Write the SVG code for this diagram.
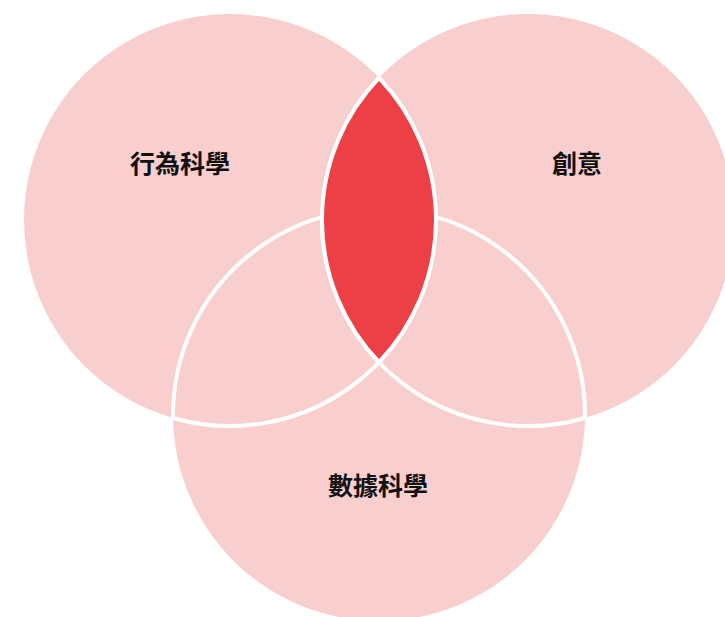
<svg xmlns="http://www.w3.org/2000/svg" width="725" height="617" viewBox="0 0 725 617">
<style>
.c{fill:#F9CECE;stroke:none}
.ov{fill:#F9CECE;stroke:#FFFFFF;stroke-width:4;stroke-linejoin:round}
.core{fill:#EC4046;stroke:#FFFFFF;stroke-width:4;stroke-linejoin:round}
.t{font-family:"Noto Sans CJK TC","Noto Sans CJK SC",sans-serif;font-weight:bold;font-size:25px;fill:#111111;text-anchor:middle}
</style>
<rect width="725" height="617" fill="#FFFFFF"/>
<g id="set-behavioral">
<circle class="c" cx="230" cy="220" r="206"/>
</g>
<g id="set-creativity">
<circle class="c" cx="528" cy="220" r="206"/>
</g>
<g id="set-datascience">
<circle class="c" cx="379" cy="415" r="206"/>
</g>
<g id="overlap-behavioral-data">
<path class="ov" d="M 173.02 417.96 A 206 206 0 0 1 435.98 217.04 A 206 206 0 0 1 173.02 417.96 Z"/>
</g>
<g id="overlap-creativity-data">
<path class="ov" d="M 584.98 417.96 A 206 206 0 0 0 322.02 217.04 A 206 206 0 0 0 584.98 417.96 Z"/>
</g>
<g id="overlap-behavioral-creativity">
<path class="core" d="M 379 77.75 A 206 206 0 0 1 379 362.25 A 206 206 0 0 1 379 77.75 Z"/>
</g>
<g id="labels">
<text class="t" x="180" y="173">行為科學</text>
<text class="t" x="577" y="173">創意</text>
<text class="t" x="378" y="495">數據科學</text>
</g>
</svg>
